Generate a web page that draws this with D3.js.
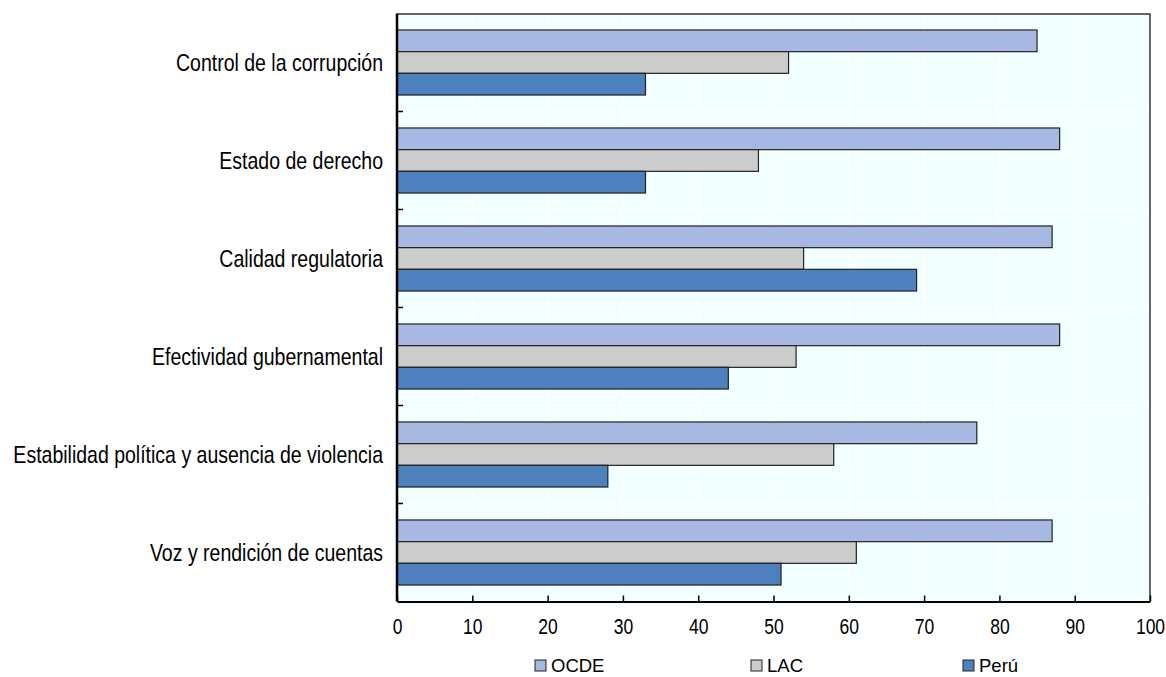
<!DOCTYPE html>
<html>
<head>
<meta charset="utf-8">
<script src="https://cdn.jsdelivr.net/npm/d3@7"></script>
<style>
  html, body { margin: 0; padding: 0; background: #ffffff; }
  svg { display: block; font-family: "Liberation Sans", Arial, sans-serif; }
</style>
</head>
<body>
<svg id="chart" width="1166" height="677"></svg>
<script>
// Governance indicators (percentile rank), OCDE vs LAC vs Perú
const categories = [
  "Control de la corrupción",
  "Estado de derecho",
  "Calidad regulatoria",
  "Efectividad gubernamental",
  "Estabilidad política y ausencia de violencia",
  "Voz y rendición de cuentas"
];
const seriesNames = ["OCDE", "LAC", "Perú"];
const ocde = [85, 88, 87, 88, 77, 87];
const lac  = [52, 48, 54, 53, 58, 61];
const peru = [33, 33, 69, 44, 28, 51];
const xTicks = [0, 10, 20, 30, 40, 50, 60, 70, 80, 90, 100];

const seriesValues = { "OCDE": ocde, "LAC": lac, "Perú": peru };
const colors = { "OCDE": "#a7b8e2", "LAC": "#cccccc", "Perú": "#4d80bc" };

const rows = categories.map((c, i) => ({
  category: c,
  values: seriesNames.map(s => ({ series: s, value: seriesValues[s][i] }))
}));

const svg = d3.select("#chart");
const margin = { left: 397, right: 16, top: 13.5, bottom: 75.5 };
const W = 1166, H = 677;
const innerW = W - margin.left - margin.right;
const innerH = H - margin.top - margin.bottom;
const textStretch = 1.22; // tall, condensed lettering

const g = svg.append("g").attr("transform", `translate(${margin.left},${margin.top})`);

const x = d3.scaleLinear().domain([0, 100]).range([0, innerW]);
const y0 = d3.scaleBand().domain(categories).range([0, innerH]).padding(0);
const y1 = d3.scaleBand().domain(seriesNames).range([0, y0.bandwidth()])
  .paddingInner(0).paddingOuter(0.76);

// plot background
g.append("rect").attr("width", innerW).attr("height", innerH).attr("fill", "#f2ffff");

// vertical grid lines
g.append("g").selectAll("line").data(xTicks.slice(1, -1)).join("line")
  .attr("x1", d => x(d)).attr("x2", d => x(d))
  .attr("y1", 0).attr("y2", innerH)
  .attr("stroke", "#ffffff").attr("stroke-width", 1.5);

// horizontal grid lines at category boundaries
const bounds = categories.slice(1).map(c => y0(c));
g.append("g").selectAll("line").data(bounds).join("line")
  .attr("x1", 0).attr("x2", innerW)
  .attr("y1", d => d).attr("y2", d => d)
  .attr("stroke", "#ffffff").attr("stroke-width", 1.5);

// bars
const groups = g.append("g").selectAll("g").data(rows).join("g")
  .attr("transform", d => `translate(0,${y0(d.category)})`);
groups.selectAll("rect").data(d => d.values).join("rect")
  .attr("x", x(0))
  .attr("y", d => y1(d.series))
  .attr("width", d => x(d.value) - x(0))
  .attr("height", y1.bandwidth())
  .attr("fill", d => colors[d.series])
  .attr("stroke", "#222222")
  .attr("stroke-width", 1.2);

// frame: top and right
g.append("path")
  .attr("d", `M0,0.5 H${innerW} V${innerH}`)
  .attr("fill", "none").attr("stroke", "#333333").attr("stroke-width", 1.5);

// x axis
const xAxis = g.append("g").attr("transform", `translate(0,${innerH})`)
  .call(d3.axisBottom(x).tickValues(xTicks).tickSizeInner(-6).tickSizeOuter(0));
xAxis.select(".domain").attr("stroke", "#000").attr("stroke-width", 2);
xAxis.selectAll(".tick line").attr("stroke", "#000").attr("stroke-width", 1.5);
xAxis.selectAll(".tick text")
  .attr("y", 0).attr("dy", "0.35em")
  .attr("transform", `translate(0,25) scale(1,${textStretch})`)
  .attr("font-size", 17.5).attr("fill", "#000")
  .attr("font-family", "Liberation Sans, Arial, sans-serif");

// y axis with ticks at category boundaries
g.append("line").attr("x1", 0).attr("x2", 0).attr("y1", 0).attr("y2", innerH)
  .attr("stroke", "#000").attr("stroke-width", 2.5);
g.append("g").selectAll("line").data(bounds).join("line")
  .attr("x1", 0).attr("x2", 6)
  .attr("y1", d => d).attr("y2", d => d)
  .attr("stroke", "#000").attr("stroke-width", 1.5);

// category labels
g.append("g").selectAll("text").data(categories).join("text")
  .attr("transform", d => `translate(-14,${y0(d) + y0.bandwidth() / 2}) scale(1,${textStretch})`)
  .attr("dy", "0.35em")
  .attr("text-anchor", "end")
  .attr("font-size", 19.5)
  .attr("fill", "#000")
  .text(d => d);

// legend
const legendX = [535, 751, 963];
const legend = svg.append("g").selectAll("g").data(seriesNames).join("g")
  .attr("transform", (d, i) => `translate(${legendX[i]},660)`);
legend.append("rect")
  .attr("width", 11).attr("height", 11)
  .attr("fill", d => colors[d]).attr("stroke", "#222").attr("stroke-width", 1);
legend.append("text")
  .attr("x", 16).attr("y", 5.5)
  .attr("dy", "0.35em")
  .attr("font-size", 18.5).attr("fill", "#000")
  .text(d => d);
</script>
</body>
</html>
